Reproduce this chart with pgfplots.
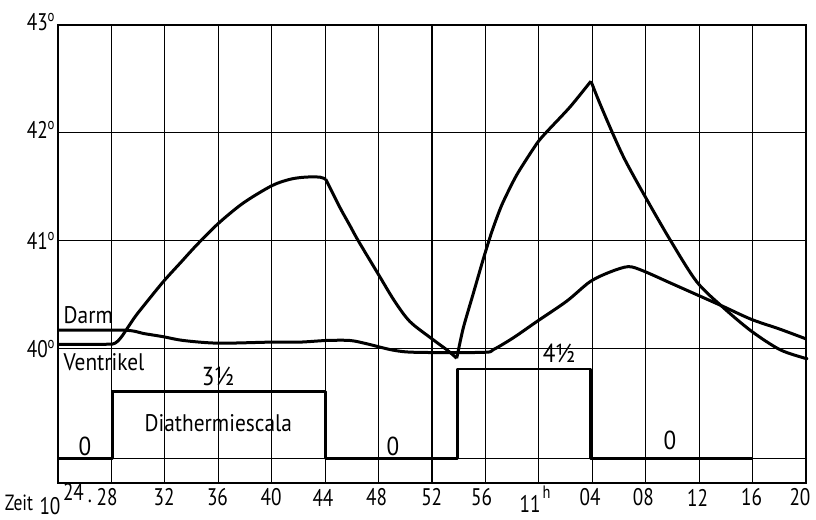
\documentclass[border=0pt]{standalone}
\usepackage{pgfplots}
\pgfplotsset{compat=1.18}
\usepackage{fontspec}
\setmainfont[FakeStretch=0.89]{PT Sans}
\newfontfamily\numfont[FakeStretch=0.8]{PT Sans}
\begin{document}
\begin{tikzpicture}[font=\fontsize{12}{14}\selectfont,
  lbl/.style={inner sep=0pt, anchor=center, font=\numfont\fontsize{12}{14}\selectfont},
  ylab/.style={inner sep=0pt, anchor=base east, font=\numfont\fontsize{12}{14}\selectfont}]
\begin{axis}[
  scale only axis, width=374pt, height=229pt,
  xmin=24, xmax=80, ymin=38.752, ymax=43.0,
  xtick={28,32,36,40,44,48,52,56,60,64,68,72,76}, ytick={38.98,40,41,42},
  xticklabels={}, yticklabels={}, major tick length=0pt,
  grid=major, major grid style={black, line width=0.55pt},
  axis line style={black, line width=0.9pt},
  clip=false,
  every axis plot/.append style={black, line width=1.5pt, line join=round},
]
% Ventrikel
\addplot[smooth, tension=0.5] coordinates {
(24,40.04) (27.6,40.04) (28.27,40.05) (28.7,40.10) (29.2,40.19) (29.8,40.30) (30.5,40.41)
(31.88,40.62) (33.2,40.80) (34.38,40.96) (36.0,41.16) (37.87,41.35) (40.0,41.51) (41.37,41.57)
(42.5,41.59) (43.61,41.59) (44.05,41.57)};
\addplot[smooth, tension=0.5] coordinates {
(44.05,41.57) (45.1,41.31) (45.86,41.14) (46.48,41.0) (47.98,40.69) (49.2,40.44)
(50.35,40.25) (52.0,40.09) (53.2,39.98) (53.85,39.91)};
\addplot[smooth, tension=0.4] coordinates {
(53.85,39.91) (54.34,40.19) (55.09,40.51) (55.84,40.83) (56.47,41.08) (57.22,41.33)
(58.34,41.61) (59.84,41.90) (60.59,42.01) (62.33,42.24) (63.90,42.48)};
\addplot[smooth, tension=0.5] coordinates {
(63.90,42.48) (64.58,42.27) (65.55,41.99) (66.45,41.75) (67.82,41.44) (69.82,41.01)
(71.82,40.62) (73.81,40.38) (75.93,40.16) (78.05,39.99) (79.93,39.91) (80,39.91)};
% Darm
\addplot[smooth, tension=0.5] coordinates {
(24,40.17) (29.0,40.17) (30.39,40.14) (31.88,40.11) (33.38,40.075) (36.0,40.05)
(40.0,40.06) (42.12,40.06) (44.1,40.075) (45.86,40.075) (47.1,40.045) (49.1,39.985)
(50.85,39.965) (55.84,39.965) (56.59,39.99) (58.09,40.10) (59.84,40.25) (62.09,40.44)
(63.83,40.62) (65.33,40.71) (66.7,40.76) (67.82,40.72) (69.82,40.61) (71.82,40.50)
(73.81,40.39) (75.93,40.27) (78.05,40.18) (80,40.09)};
% Diathermiescala
\addplot[const plot, line width=1.4pt] coordinates {
(24,38.98) (28.1,39.6) (44,38.98) (53.92,39.81) (63.85,38.98) (75.95,38.98)};

% y labels
\node[ylab] at (axis cs:23.85,42.95) {43\textsuperscript{o}};
\node[ylab] at (axis cs:23.85,41.95) {42\textsuperscript{o}};
\node[ylab] at (axis cs:23.85,40.92) {41\textsuperscript{o}};
\node[ylab] at (axis cs:23.85,39.92) {40\textsuperscript{o}};
% x labels
\node[lbl, font=\numfont\fontsize{11}{13}\selectfont] at (axis cs:21.08,38.571) {Zeit};
\node[lbl] at (axis cs:23.40,38.539) {10};
\node[lbl] at (axis cs:25.16,38.673) {24};
\node[lbl] at (axis cs:26.40,38.58) {.};
\node[lbl] at (axis cs:27.67,38.618) {28};
\node[lbl] at (axis cs:31.94,38.618) {32};
\node[lbl] at (axis cs:35.94,38.618) {36};
\node[lbl] at (axis cs:39.95,38.618) {40};
\node[lbl] at (axis cs:43.84,38.618) {44};
\node[lbl] at (axis cs:47.86,38.618) {48};
\node[lbl] at (axis cs:51.98,38.618) {52};
\node[lbl] at (axis cs:55.72,38.618) {56};
\node[lbl] at (axis cs:59.34,38.557) {11};
\node[lbl, font=\numfont\fontsize{9}{11}\selectfont] at (axis cs:60.57,38.665) {h};
\node[lbl] at (axis cs:63.83,38.618) {04};
\node[lbl] at (axis cs:67.82,38.618) {08};
\node[lbl] at (axis cs:71.88,38.618) {12};
\node[lbl] at (axis cs:75.93,38.618) {16};
\node[lbl] at (axis cs:79.55,38.618) {20};
% in-plot labels
\node[inner sep=0pt, anchor=base west] at (axis cs:24.40,40.237) {Darm};
\node[inner sep=0pt, anchor=base west] at (axis cs:24.40,39.80) {Ventrikel};
\node[inner sep=0pt, anchor=base, font=\fontsize{13}{15}\selectfont] at (axis cs:35.98,39.661) {3½};
\node[inner sep=0pt, anchor=base] at (axis cs:36.0,39.228) {Diathermiescala};
\node[inner sep=0pt, anchor=base, font=\fontsize{13}{15}\selectfont] at (axis cs:26.02,39.012) {0};
\node[inner sep=0pt, anchor=base, font=\fontsize{13}{15}\selectfont] at (axis cs:49.08,39.012) {0};
\node[inner sep=0pt, anchor=base, font=\fontsize{13}{15}\selectfont] at (axis cs:61.51,39.875) {4½};
\node[inner sep=0pt, anchor=base, font=\fontsize{13}{15}\selectfont] at (axis cs:69.82,39.06) {0};
\coordinate (bl) at (axis cs:19.658,38.418);
\coordinate (tr) at (axis cs:80.75,43.233);
\end{axis}
\pgfresetboundingbox
\path[use as bounding box] (bl) rectangle (tr);
\end{tikzpicture}
\end{document}
